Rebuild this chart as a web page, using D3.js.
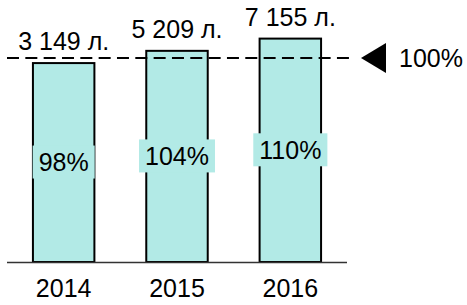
<!DOCTYPE html>
<html>
<head>
<meta charset="utf-8">
<script src="https://cdn.jsdelivr.net/npm/d3@7"></script>
<style>
  body { margin: 0; background: #fff; }
  text { font-family: "Liberation Sans", Arial, sans-serif; font-size: 25px; fill: #000; }
</style>
</head>
<body>
<div id="chart"></div>
<script>
const years = ['2014', '2015', '2016'];
const volumes = [3149, 5209, 7155];
const percents = [98, 104, 110];
const targetPercent = 100;

const width = 467;
const height = 305;

const svg = d3.select('#chart')
    .append('svg')
    .attr('width', width)
    .attr('height', height);

const x = d3.scaleBand()
    .domain(years)
    .range([7, 347])
    .paddingInner(0.44)
    .paddingOuter(0.22);

const y = d3.scaleLinear()
    .domain([0, 100])
    .range([262, 58]);

const fmt = v => d3.format(',')(v).replace(/,/g, ' ') + ' л.';
const barColor = '#b2eae6';

// bars
svg.selectAll('.bar')
    .data(years)
    .enter()
    .append('rect')
    .attr('class', 'bar')
    .attr('x', d => x(d) + 1)
    .attr('y', (d, i) => y(percents[i]) + 1)
    .attr('width', x.bandwidth() - 2)
    .attr('height', (d, i) => y(0) - y(percents[i]) - 1)
    .attr('fill', barColor)
    .attr('stroke', '#000')
    .attr('stroke-width', 2);

// baseline
svg.append('line')
    .attr('x1', 7)
    .attr('x2', 347)
    .attr('y1', y(0) + 0.5)
    .attr('y2', y(0) + 0.5)
    .attr('stroke', '#333')
    .attr('stroke-width', 1.5);

// 100% dashed line
svg.append('line')
    .attr('x1', 7)
    .attr('x2', 349)
    .attr('y1', y(targetPercent))
    .attr('y2', y(targetPercent))
    .attr('stroke', '#000')
    .attr('stroke-width', 2)
    .attr('stroke-dasharray', '12,6.33');

// marker triangle + label
const ty = y(targetPercent);
svg.append('path')
    .attr('d', `M361,${ty} L386,${ty - 15} L386,${ty + 15} Z`)
    .attr('fill', '#000');

svg.append('text')
    .attr('x', 399)
    .attr('y', ty + 8.5)
    .text(targetPercent + '%');

// volume labels above bars
svg.selectAll('.vol')
    .data(years)
    .enter()
    .append('text')
    .attr('class', 'vol')
    .attr('text-anchor', 'middle')
    .attr('x', d => x(d) + x.bandwidth() / 2)
    .attr('y', (d, i) => y(percents[i]) - 12)
    .text((d, i) => fmt(volumes[i]));

// percent labels with background boxes
const pct = svg.selectAll('.pct')
    .data(years)
    .enter()
    .append('g')
    .attr('class', 'pct')
    .attr('transform', (d, i) => `translate(${x(d) + x.bandwidth() / 2},${(y(percents[i]) + y(0)) / 2})`);

pct.append('text')
    .attr('text-anchor', 'middle')
    .attr('y', 9)
    .text((d, i) => percents[i] + '%');

pct.each(function () {
    const g = d3.select(this);
    const bb = g.select('text').node().getBBox();
    g.insert('rect', 'text')
        .attr('x', bb.x - 6)
        .attr('y', -16.5)
        .attr('width', bb.width + 12)
        .attr('height', 33)
        .attr('fill', barColor);
});

// year labels
svg.selectAll('.year')
    .data(years)
    .enter()
    .append('text')
    .attr('class', 'year')
    .attr('text-anchor', 'middle')
    .attr('x', d => x(d) + x.bandwidth() / 2)
    .attr('y', 297)
    .text(d => d);
</script>
</body>
</html>
